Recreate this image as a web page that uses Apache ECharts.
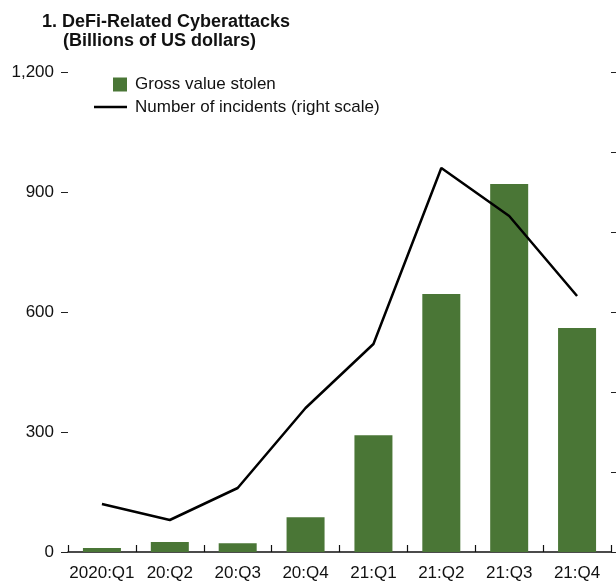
<!DOCTYPE html>
<html>
<head>
<meta charset="utf-8">
<script src="https://cdn.jsdelivr.net/npm/echarts@6/dist/echarts.min.js"></script>
<style>
  html, body { margin: 0; padding: 0; background: #fff; }
  #chart { width: 616px; height: 584px; }
</style>
</head>
<body>
<div id="chart"></div>
<script>
// quarters on the x axis
const categories = ['2020:Q1', '20:Q2', '20:Q3', '20:Q4', '21:Q1', '21:Q2', '21:Q3', '21:Q4'];
// gross value stolen, billions of US dollars (left scale)
const valueStolen = [10, 25, 22, 87, 292, 645, 920, 560];
// number of incidents (right scale)
const incidents = [6, 4, 8, 18, 26, 48, 42, 32];
// axis ticks
const leftTicks = [0, 300, 600, 900, 1200];
const rightTicks = [0, 10, 20, 30, 40, 50, 60];

const FONT = '"Liberation Sans", Arial, sans-serif';

let chart = echarts.init(document.getElementById('chart'), null, { renderer: 'canvas' });

let option = {
  backgroundColor: '#fff',
  animation: false,
  title: [
    {
      text: '1. DeFi-Related Cyberattacks',
      left: 42,
      top: 13,
      padding: 0,
      textStyle: { fontFamily: FONT, fontSize: 18, fontWeight: 'bold', color: '#111' },
    },
    {
      text: '(Billions of US dollars)',
      left: 63,
      top: 32,
      padding: 0,
      textStyle: { fontFamily: FONT, fontSize: 18, fontWeight: 'bold', color: '#111' },
    },
  ],
  legend: [
    {
      data: ['Gross value stolen'],
      left: 113,
      top: 76,
      padding: 0,
      itemWidth: 14,
      itemHeight: 14,
      icon: 'rect',
      textStyle: { fontFamily: FONT, fontSize: 17, color: '#111', padding: [0, 0, 0, 3] },
    },
    {
      data: ['Number of incidents (right scale)'],
      left: 94,
      top: 98.5,
      padding: 0,
      itemWidth: 33,
      itemHeight: 2.5,
      icon: 'rect',
      textStyle: { fontFamily: FONT, fontSize: 17, color: '#111', padding: [0, 0, 0, 3] },
    },
  ],
  grid: {
    left: 68,
    right: 5,
    top: 72,
    bottom: 32,
    containLabel: false,
  },
  xAxis: {
    type: 'category',
    data: categories,
    boundaryGap: true,
    axisLine: { show: true, lineStyle: { color: '#111', width: 1.5 } },
    axisTick: { show: true, inside: true, length: 7, lineStyle: { color: '#111', width: 1.2 } },
    axisLabel: { fontFamily: FONT, fontSize: 17, color: '#111', margin: 13, interval: 0 },
    splitLine: { show: false },
  },
  yAxis: [
    {
      type: 'value',
      min: leftTicks[0],
      max: leftTicks[leftTicks.length - 1],
      interval: leftTicks[1] - leftTicks[0],
      axisLine: { show: false },
      axisTick: { show: true, length: 7, lineStyle: { color: '#222', width: 1 } },
      axisLabel: {
        fontFamily: FONT,
        fontSize: 17,
        color: '#111',
        margin: 14,
        formatter: v => v.toLocaleString('en-US'),
      },
      splitLine: { show: false },
    },
    {
      type: 'value',
      min: rightTicks[0],
      max: rightTicks[rightTicks.length - 1],
      interval: rightTicks[1] - rightTicks[0],
      position: 'right',
      axisLine: { show: false },
      axisTick: { show: true, length: 6, lineStyle: { color: '#222', width: 1 } },
      axisLabel: { show: false },
      splitLine: { show: false },
    },
  ],
  series: [
    {
      name: 'Gross value stolen',
      type: 'bar',
      data: valueStolen,
      barWidth: 38,
      itemStyle: { color: '#4a7636' },
      z: 2,
    },
    {
      name: 'Number of incidents (right scale)',
      type: 'line',
      yAxisIndex: 1,
      data: incidents,
      symbol: 'none',
      showSymbol: false,
      itemStyle: { color: '#000' },
      lineStyle: { color: '#000', width: 2.5 },
      z: 3,
    },
  ],
};

chart.setOption(option);
</script>
</body>
</html>
